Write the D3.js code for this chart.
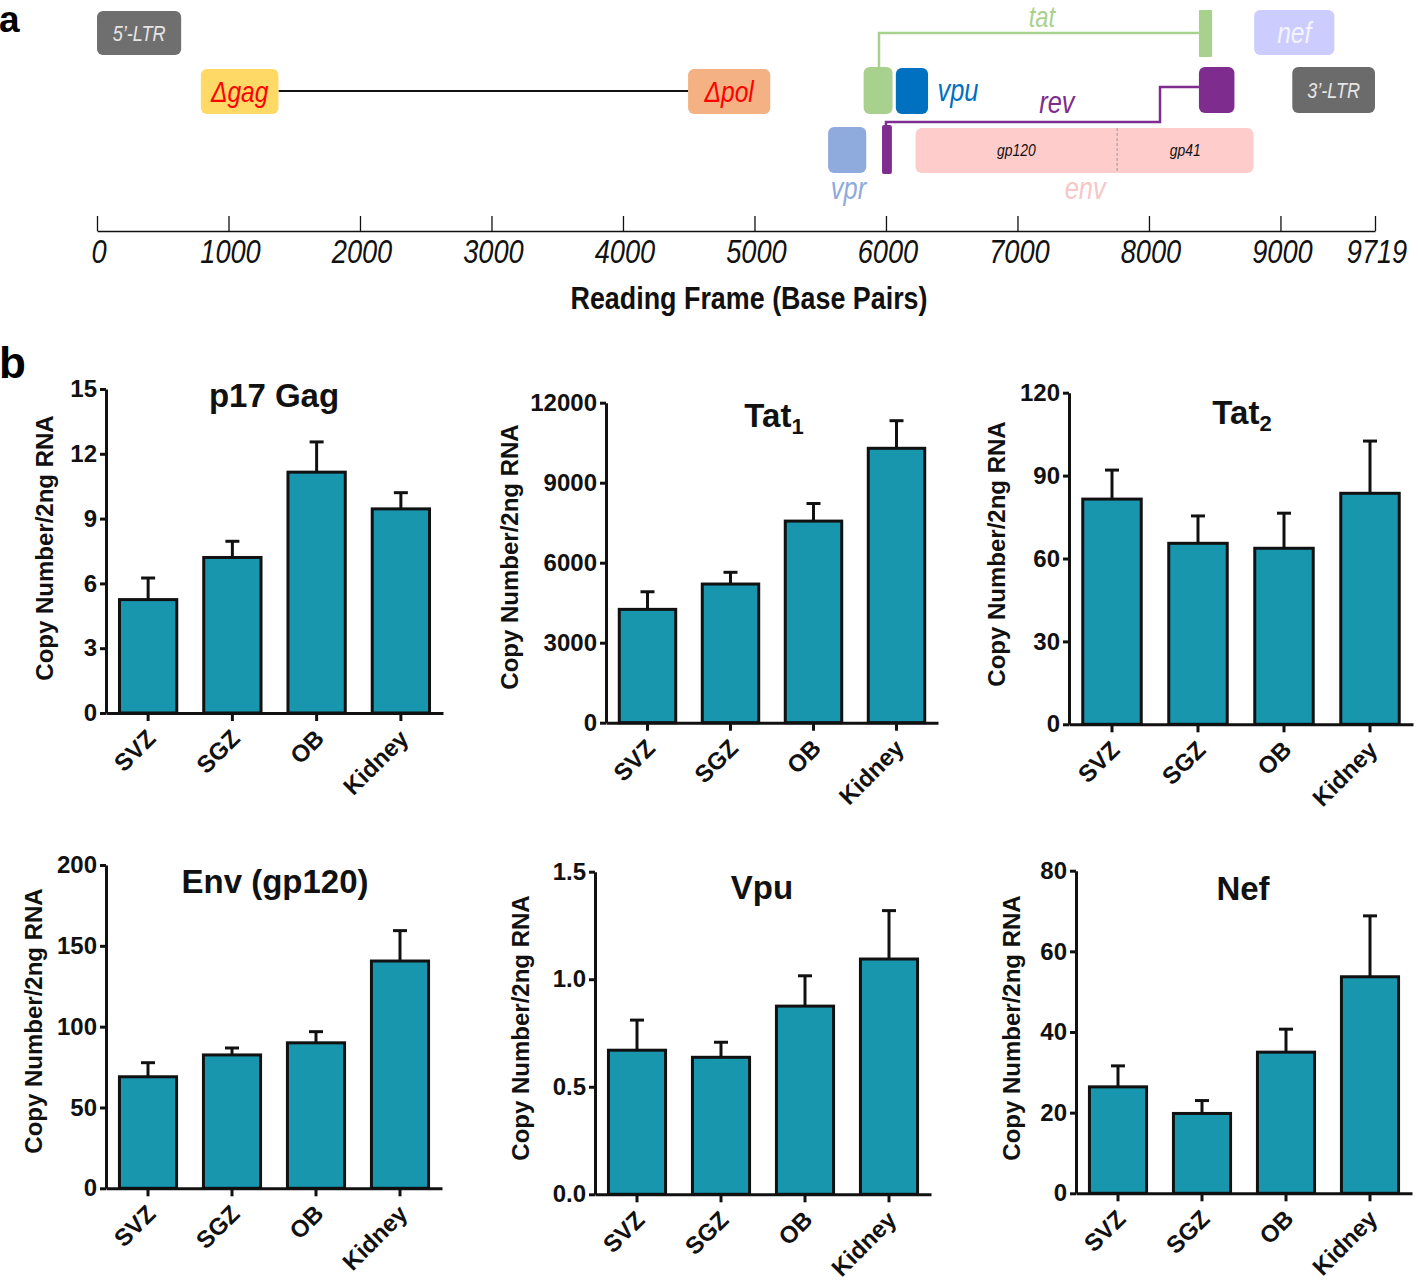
<!DOCTYPE html>
<html><head><meta charset="utf-8">
<script src="https://cdn.jsdelivr.net/npm/d3@7"></script>
<style>
body{margin:0;background:#fff}
text{font-family:"Liberation Sans",Arial,sans-serif}
</style>
</head><body>
<svg id="c" width="1418" height="1282" xmlns="http://www.w3.org/2000/svg"></svg>
<script>
// ================= Panel a: genome map data (base pairs) =================
const genomeLength = 9719;
const genomeTicks = [0,1000,2000,3000,4000,5000,6000,7000,8000,9000,9719];
const geneIds    = ["ltr5","gag","pol","tat1","tat2","vpu","nef","ltr3","rev1","rev2","vpr","env"];
const geneStart  = [0,   790, 4495, 5830, 8380, 6075, 8800, 9090, 5970, 8380, 5560, 6225];
const geneEnd    = [640, 1380,5120, 6050, 8480, 6320, 9410, 9719, 6045, 8650, 5850, 8795];
const envSplit   = 7758;            // gp120 / gp41 boundary
const tatJoin    = [5947, 8380];    // tat splice connector
const revJoin    = [6000, 8084, 8380]; // rev splice connector

// ================= Panel b: bar chart data =================
const regions = ["SVZ","SGZ","OB","Kidney"];
const p17GagMean = [5.25, 7.2, 11.15, 9.45];
const p17GagSem  = [1.0, 0.75, 1.4, 0.75];
const p17GagTicks = [0,3,6,9,12,15];
const tat1Mean = [4250, 5200, 7560, 10290];
const tat1Sem  = [660, 440, 660, 1035];
const tat1Ticks = [0,3000,6000,9000,12000];
const tat2Mean = [81.5, 65.5, 63.7, 83.6];
const tat2Sem  = [10.5, 9.9, 12.7, 18.9];
const tat2Ticks = [0,30,60,90,120];
const envMean = [69, 82.5, 90, 140.6];
const envSem  = [8.7, 4.3, 6.9, 18.8];
const envTicks = [0,50,100,150,200];
const vpuMean = [0.67, 0.637, 0.875, 1.094];
const vpuSem  = [0.14, 0.07, 0.141, 0.225];
const vpuTicks = [0,0.5,1.0,1.5];
const nefMean = [26.4, 19.8, 35, 53.7];
const nefSem  = [5.2, 3.2, 5.7, 15.1];
const nefTicks = [0,20,40,60,80];
const yLabel = "Copy Number/2ng RNA";

const svg = d3.select("#c");

// condensed text helper (no narrow font installed -> horizontal scale)
function narrow(g, x, y, txt, o){
  return g.append("text")
    .attr("transform",`translate(${x},${y}) scale(${o.sx||0.82},1)`)
    .attr("text-anchor",o.anchor||"middle")
    .attr("dy",o.dy||null)
    .attr("font-style",o.italic===false?null:"italic")
    .attr("font-weight",o.bold?"bold":null)
    .attr("font-size",o.fs).attr("fill",o.fill||"#111").text(txt);
}

// ---------- panel letters ----------
svg.append("text").attr("x",-1).attr("y",32).attr("font-size",37).attr("font-weight","bold").text("a");
svg.append("text").attr("x",-1).attr("y",378).attr("font-size",44).attr("font-weight","bold").text("b");

// ---------- panel a ----------
const xg = d3.scaleLinear().domain([0,genomeLength]).range([97,1375]);
const ga = svg.append("g");

const geneStyle = {
  ltr5:{y0:11,y1:55,fill:"#6f6f6f",label:"5’-LTR",lc:"#e6e6e6",fs:22,inside:true},
  gag:{y0:69,y1:114,fill:"#ffd966",label:"Δgag",lc:"#ff0000",fs:30,inside:true},
  pol:{y0:69,y1:114,fill:"#f4b183",label:"Δpol",lc:"#ff0000",fs:30,inside:true},
  tat1:{y0:67,y1:114,fill:"#a9d18e"},
  tat2:{y0:10,y1:57,fill:"#a9d18e",r:1},
  vpu:{y0:68,y1:114,fill:"#0070c0"},
  nef:{y0:10,y1:55,fill:"#ccccff",label:"nef",lc:"#f4f4ff",fs:30,inside:true},
  ltr3:{y0:67,y1:113,fill:"#6b6b6b",label:"3’-LTR",lc:"#e6e6e6",fs:22,inside:true},
  rev1:{y0:125,y1:174,fill:"#7e2c8e",r:2},
  rev2:{y0:67,y1:113,fill:"#7e2c8e"},
  vpr:{y0:127,y1:173,fill:"#8faadc"},
  env:{y0:128,y1:173,fill:"#ffcccc"}
};

// connector lines
ga.append("line").attr("x1",xg(geneEnd[1])).attr("x2",xg(geneStart[2])).attr("y1",91).attr("y2",91)
  .attr("stroke","#111").attr("stroke-width",2);
ga.append("path").attr("fill","none").attr("stroke","#a9d18e").attr("stroke-width",2.5)
  .attr("d",`M${xg(tatJoin[0])},67 V33 H${xg(tatJoin[1])}`);
ga.append("path").attr("fill","none").attr("stroke","#7e2c8e").attr("stroke-width",2.5)
  .attr("d",`M${xg(revJoin[2])},87 H${xg(revJoin[1])} V122 H${xg(revJoin[0])} V127`);

geneIds.forEach((id,i)=>{
  const s = geneStyle[id];
  ga.append("rect").attr("x",xg(geneStart[i])).attr("width",xg(geneEnd[i])-xg(geneStart[i]))
    .attr("y",s.y0).attr("height",s.y1-s.y0).attr("rx",s.r!==undefined?s.r:6).attr("fill",s.fill);
  if(s.inside){
    narrow(ga,(xg(geneStart[i])+xg(geneEnd[i]))/2,(s.y0+s.y1)/2,s.label,{fs:s.fs,fill:s.lc,dy:"0.35em"});
  }
});
// env divider and sub labels
ga.append("line").attr("x1",xg(envSplit)).attr("x2",xg(envSplit)).attr("y1",128).attr("y2",173)
  .attr("stroke","#999").attr("stroke-width",1).attr("stroke-dasharray","3,2");
narrow(ga,(xg(geneStart[11])+xg(envSplit))/2,156,"gp120",{fs:17});
narrow(ga,(xg(envSplit)+xg(geneEnd[11]))/2,156,"gp41",{fs:17});

// outside labels
const outLabels = [
  {t:"tat",x:xg(7186),y:27,c:"#a9d18e",fs:29},
  {t:"vpu",x:xg(6548),y:101,c:"#0070c0",fs:31},
  {t:"rev",x:xg(7300),y:113,c:"#7e2c8e",fs:31},
  {t:"vpr",x:xg(5715),y:199,c:"#8faadc",fs:31},
  {t:"env",x:xg(7515),y:199,c:"#f7c6c6",fs:31}
];
outLabels.forEach(d=>narrow(ga,d.x,d.y,d.t,{fs:d.fs,fill:d.c}));

// genome axis
const gAxis = ga.append("g").attr("transform","translate(0,231)")
  .call(d3.axisTop(xg).tickValues(genomeTicks).tickSize(15).tickSizeOuter(0).tickFormat(""));
gAxis.select(".domain").attr("stroke","#111").attr("stroke-width",1.6);
gAxis.selectAll(".tick line").attr("stroke","#111").attr("stroke-width",1.3);
genomeTicks.forEach(d=>narrow(ga,xg(d)+2,263,d,{fs:34,sx:0.8}));
narrow(ga,749,309,"Reading Frame (Base Pairs)",{fs:32,sx:0.84,bold:true,italic:false});

// ---------- panel b ----------
function barPanel(o){
  const g = svg.append("g");
  const x = d3.scaleBand().domain(regions).range([o.x0,o.x1]).paddingInner(0.32).paddingOuter(0.16);
  const y = d3.scaleLinear().domain([0,o.max]).range([o.yb,o.yt]);
  // bars
  g.selectAll(".bar").data(regions).join("rect")
    .attr("x",d=>x(d)).attr("width",x.bandwidth())
    .attr("y",(d,i)=>y(o.mean[i])).attr("height",(d,i)=>y(0)-y(o.mean[i]))
    .attr("fill","#1796ae").attr("stroke","#111").attr("stroke-width",3);
  // error bars
  regions.forEach((d,i)=>{
    const cx = x(d)+x.bandwidth()/2;
    g.append("line").attr("x1",cx).attr("x2",cx).attr("y1",y(o.mean[i])).attr("y2",y(o.mean[i]+o.sem[i]))
      .attr("stroke","#111").attr("stroke-width",3);
    g.append("line").attr("x1",cx-7).attr("x2",cx+7).attr("y1",y(o.mean[i]+o.sem[i])).attr("y2",y(o.mean[i]+o.sem[i]))
      .attr("stroke","#111").attr("stroke-width",3);
  });
  // y axis
  const ya = g.append("g").attr("transform",`translate(${o.x0},0)`)
    .call(d3.axisLeft(y).tickValues(o.ticks).tickSize(6).tickSizeOuter(0).tickPadding(3).tickFormat(o.fmt||d3.format("d")));
  // x axis
  const xa = g.append("g").attr("transform",`translate(0,${o.yb})`)
    .call(d3.axisBottom(x).tickSize(8).tickSizeOuter(0).tickFormat(""));
  [ya,xa].forEach(a=>{
    a.select(".domain").attr("stroke","#111").attr("stroke-width",3);
    a.selectAll(".tick line").attr("stroke","#111").attr("stroke-width",3);
  });
  ya.selectAll(".tick text").attr("font-family","Liberation Sans, Arial, sans-serif")
    .attr("font-size",24).attr("font-weight","bold").attr("fill","#111");
  // x labels
  g.selectAll(".xl").data(regions).join("text")
    .attr("transform",d=>`translate(${x(d)+x.bandwidth()/2+9},${o.yb+27}) rotate(-45)`)
    .attr("text-anchor","end").attr("font-size",24).attr("font-weight","bold").attr("fill","#111").text(d=>d);
  // y label
  g.append("text").attr("transform",`translate(${o.lx},${o.ly}) rotate(-90)`).attr("text-anchor","middle")
    .attr("font-size",24).attr("font-weight","bold").attr("fill","#111").text(yLabel);
  // title
  const t = g.append("text").attr("x",o.tx).attr("y",o.ty).attr("text-anchor","middle")
    .attr("font-size",33).attr("font-weight","bold").attr("fill","#111");
  t.append("tspan").text(o.title);
  if(o.sub) t.append("tspan").attr("font-size",22).attr("dy",7).text(o.sub);
}

barPanel({x0:106,x1:443,yb:713,yt:389,max:15,ticks:p17GagTicks,mean:p17GagMean,sem:p17GagSem,
  lx:53,ly:548,tx:274,ty:407,title:"p17 Gag"});
barPanel({x0:606,x1:938,yb:722.7,yt:402.7,max:12000,ticks:tat1Ticks,mean:tat1Mean,sem:tat1Sem,
  lx:518,ly:557,tx:774,ty:427,title:"Tat",sub:"1"});
barPanel({x0:1069,x1:1413,yb:724.3,yt:392.7,max:120,ticks:tat2Ticks,mean:tat2Mean,sem:tat2Sem,
  lx:1005,ly:554,tx:1242,ty:424,title:"Tat",sub:"2"});
barPanel({x0:106,x1:442,yb:1188.3,yt:865,max:200,ticks:envTicks,mean:envMean,sem:envSem,
  lx:42,ly:1021,tx:275,ty:893,title:"Env (gp120)"});
barPanel({x0:595,x1:931,yb:1194.3,yt:871.7,max:1.5,ticks:vpuTicks,mean:vpuMean,sem:vpuSem,fmt:d3.format(".1f"),
  lx:529,ly:1028,tx:762,ty:899,title:"Vpu"});
barPanel({x0:1076,x1:1412,yb:1193.3,yt:870.7,max:80,ticks:nefTicks,mean:nefMean,sem:nefSem,
  lx:1020,ly:1028,tx:1243,ty:900,title:"Nef"});
</script>
</body></html>
